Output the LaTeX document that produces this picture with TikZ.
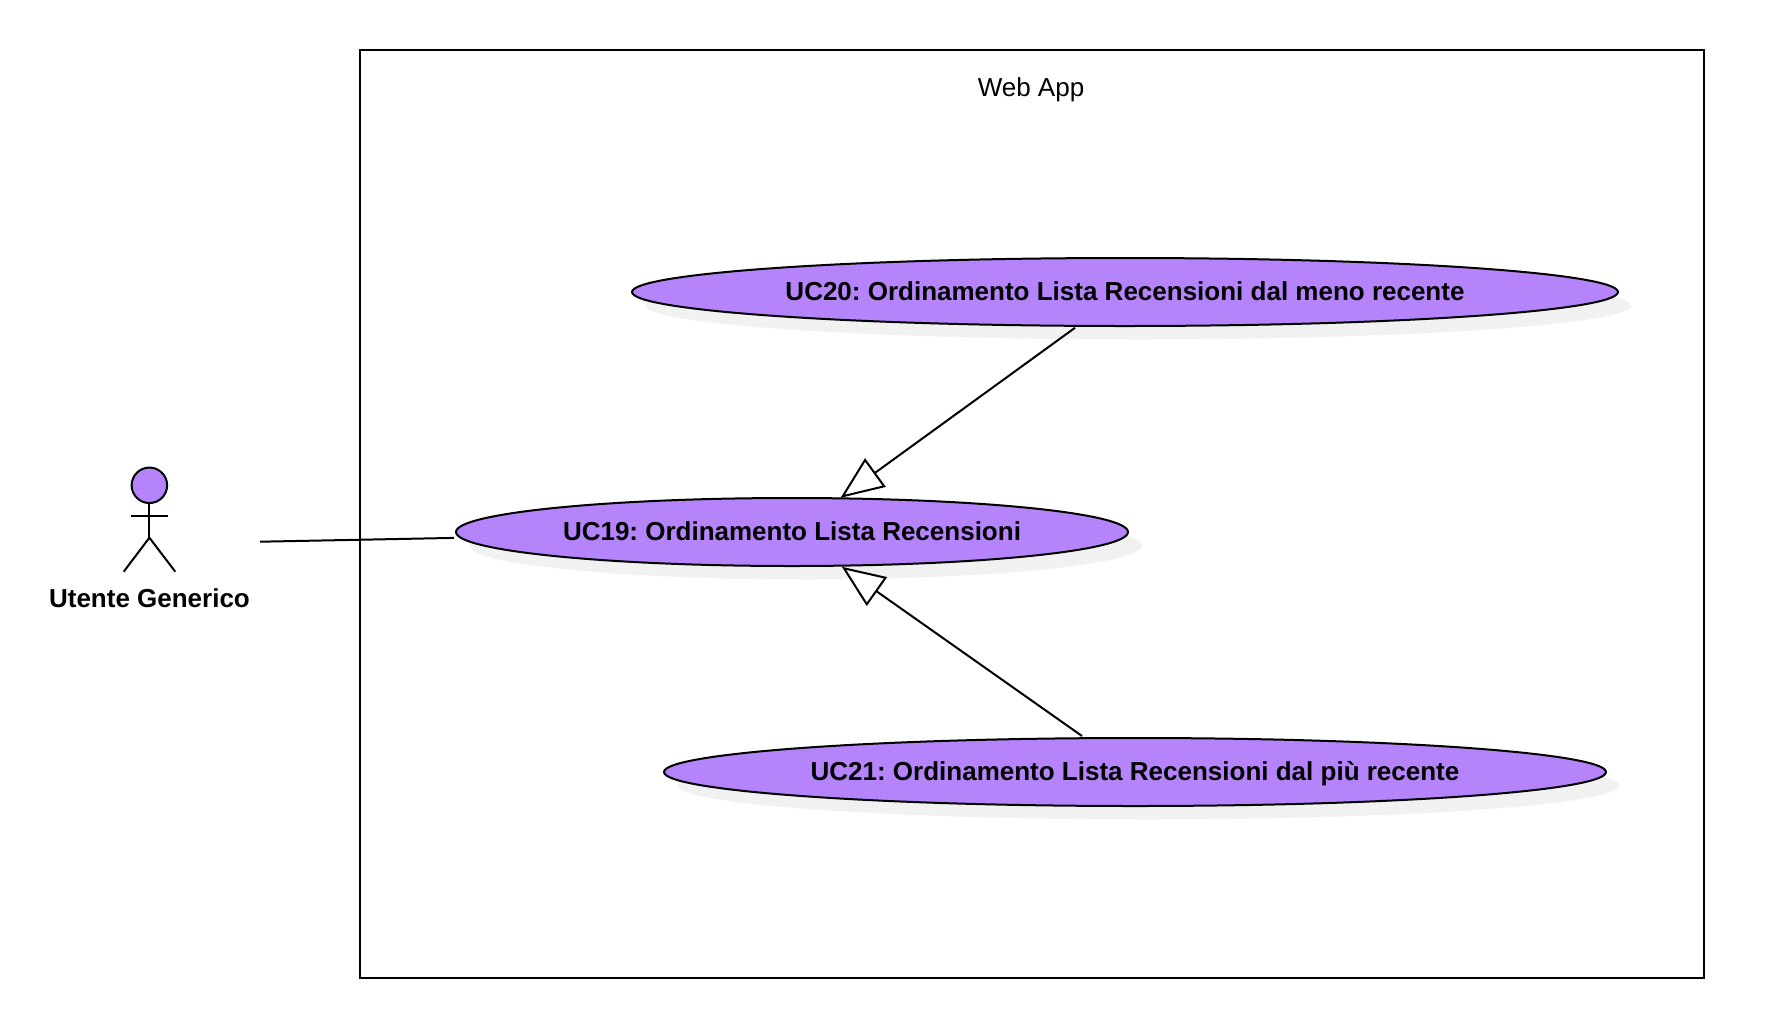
\documentclass[tikz,border=0pt]{standalone}
\usepackage{fontspec}
\setmainfont{Liberation Sans}
\frenchspacing
\usetikzlibrary{arrows.meta,shapes.geometric,shadows}
\definecolor{ucfill}{HTML}{B583FA}
\definecolor{ucshadow}{HTML}{F1F1F1}
\tikzset{
  wire/.style={line width=2pt,black},
  ucase/.style={ellipse,draw=black,line width=2pt,fill=ucfill,inner sep=0pt,outer sep=0pt,
    font=\fontsize{26pt}{30pt}\selectfont\bfseries,text height=16pt,text depth=0pt,
    drop shadow={shadow xshift=13.5pt,shadow yshift=-13.5pt,opacity=1,fill=ucshadow}},
  gener/.style={wire,-{Triangle[open,length=43pt,width=35pt,fill=white]}},
  limbs/.style={wire,line cap=butt},
}
\begin{document}
\begin{tikzpicture}[x=1pt,y=-1pt]
\useasboundingbox (0,0) rectangle (1770,1034);
\node[draw=black,line width=2pt,minimum width=1344pt,minimum height=928pt,inner sep=0pt,outer sep=0pt] (app) at (1032,513.5) {};
\node[font=\fontsize{26pt}{30pt}\selectfont,text height=18pt,text depth=0pt,inner sep=0pt] (title) at (1031,87) {Web App};
\node[ucase,minimum width=986pt,minimum height=68pt] (uc20) at (1125,292) {UC20: Ordinamento Lista Recensioni dal meno recente};
\node[ucase,minimum width=672pt,minimum height=68pt] (uc19) at (792,532) {UC19: Ordinamento Lista Recensioni};
\node[ucase,minimum width=942pt,minimum height=68pt] (uc21) at (1135,772) {UC21: Ordinamento Lista Recensioni dal più recente};
% actor
\node[ellipse,draw=black,line width=2pt,fill=ucfill,minimum width=35.5pt,minimum height=35.5pt,inner sep=0pt,outer sep=0pt] (head) at (149.4,485.3) {};
\coordinate (hip) at (149.4,537.7);
\coordinate (armL) at (131,515.7);
\coordinate (armR) at (168,515.7);
\coordinate (footL) at (123.7,571.7);
\coordinate (footR) at (175.3,571.7);
\draw[limbs] (head.south) -- (hip);
\draw[limbs] (armL) -- (armR);
\draw[limbs] (footL) -- (hip) -- (footR);
\node[font=\fontsize{26pt}{30pt}\selectfont\bfseries,text height=18pt,text depth=0pt,inner sep=0pt] (actorname) at (149.5,598.5) {Utente Generico};
\coordinate (actorport) at (260,541.7);
\draw[wire] (actorport) -- ([shift={(-2pt,-5.9pt)}]uc19.west);
\draw[gener] ([shift={(2pt,-2pt)}]uc20.213.8) -- ([shift={(-1.2pt,0.6pt)}]uc19.34.33);
\draw[gener] ([shift={(-1pt,2.2pt)}]uc21.147.8) -- ([yshift=-1.2pt]uc19.326.6);
\end{tikzpicture}
\end{document}
